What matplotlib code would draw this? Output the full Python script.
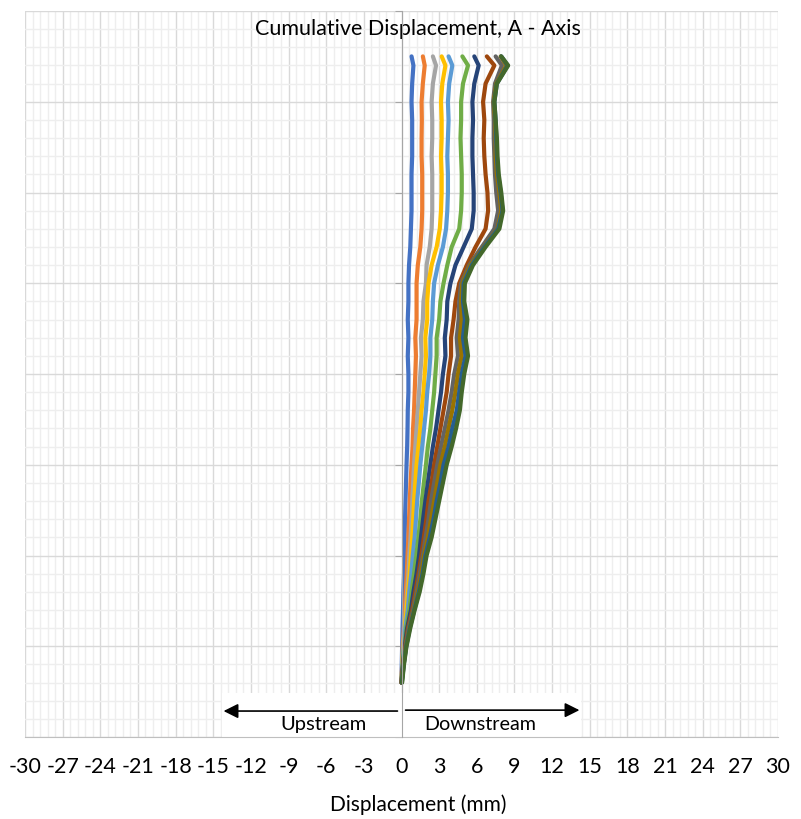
import matplotlib.pyplot as plt
from matplotlib.patches import Rectangle
from matplotlib.ticker import MultipleLocator

# depth / elevation levels (bottom to top)
levels = [3, 4, 5, 6, 7, 8, 9, 10, 11, 12, 13, 14, 15, 16, 17, 18, 19, 20,
          21, 22, 23, 24, 25, 26, 27, 28, 29, 30, 31, 32, 33, 34, 35, 36, 37, 37.5]

s01 = [0.0, 0.02, 0.05, 0.08, 0.12, 0.15, 0.2, 0.22, 0.25, 0.28, 0.32, 0.36, 0.4, 0.45, 0.48, 0.5, 0.55, 0.55,
       0.5, 0.55, 0.5, 0.55, 0.55, 0.6, 0.7, 0.75, 0.8, 0.8, 0.8, 0.85, 0.85, 0.85, 0.8, 0.85, 0.95, 0.8]
s02 = [0.0, 0.05, 0.1, 0.18, 0.26, 0.34, 0.42, 0.48, 0.55, 0.6, 0.66, 0.72, 0.8, 0.88, 0.92, 1.0, 1.05, 1.1,
       1.15, 1.1, 1.2, 1.2, 1.2, 1.3, 1.5, 1.6, 1.65, 1.65, 1.65, 1.6, 1.6, 1.62, 1.6, 1.7, 1.85, 1.7]
s03 = [0.0, 0.06, 0.13, 0.22, 0.35, 0.45, 0.55, 0.62, 0.72, 0.8, 0.86, 0.93, 1.0, 1.1, 1.2, 1.3, 1.4, 1.5,
       1.6, 1.55, 1.7, 1.75, 1.95, 2.0, 2.25, 2.4, 2.45, 2.45, 2.45, 2.4, 2.45, 2.45, 2.4, 2.5, 2.75, 2.5]
s04 = [0.0, 0.07, 0.15, 0.25, 0.4, 0.52, 0.65, 0.75, 0.85, 0.93, 1.0, 1.1, 1.2, 1.35, 1.5, 1.6, 1.75, 1.85,
       1.95, 1.9, 2.05, 2.05, 2.15, 2.4, 2.8, 3.05, 3.15, 3.2, 3.2, 3.15, 3.2, 3.2, 3.15, 3.25, 3.5, 3.2]
s05 = [0.0, 0.08, 0.18, 0.3, 0.5, 0.62, 0.78, 0.9, 1.05, 1.15, 1.25, 1.38, 1.5, 1.65, 1.8, 1.95, 2.05, 2.2,
       2.3, 2.3, 2.45, 2.5, 2.6, 2.9, 3.3, 3.55, 3.65, 3.7, 3.7, 3.65, 3.7, 3.75, 3.7, 3.8, 4.05, 3.75]
s06 = [0.0, 0.1, 0.22, 0.38, 0.62, 0.8, 1.0, 1.18, 1.35, 1.5, 1.62, 1.78, 1.95, 2.1, 2.3, 2.45, 2.6, 2.7,
       2.8, 2.8, 3.0, 3.1, 3.35, 3.65, 4.0, 4.6, 4.75, 4.8, 4.8, 4.75, 4.7, 4.75, 4.75, 4.9, 5.3, 4.85]
s07 = [0.0, 0.12, 0.26, 0.45, 0.75, 0.95, 1.2, 1.4, 1.55, 1.72, 1.9, 2.1, 2.3, 2.5, 2.75, 2.95, 3.15, 3.3,
       3.5, 3.45, 3.6, 3.65, 3.9, 4.3, 4.95, 5.6, 5.75, 5.75, 5.7, 5.65, 5.65, 5.7, 5.65, 5.8, 6.15, 5.8]
s08 = [0.0, 0.13, 0.3, 0.52, 0.85, 1.1, 1.35, 1.58, 1.78, 1.98, 2.15, 2.4, 2.6, 2.85, 3.1, 3.35, 3.6, 3.75,
       3.95, 3.95, 4.15, 4.3, 4.6, 5.2, 5.9, 6.7, 6.9, 6.85, 6.7, 6.6, 6.55, 6.6, 6.5, 6.7, 7.4, 6.8]
s09 = [0.0, 0.15, 0.33, 0.58, 0.92, 1.2, 1.45, 1.7, 1.92, 2.15, 2.35, 2.6, 2.85, 3.15, 3.45, 3.75, 4.0, 4.2,
       4.5, 4.4, 4.55, 4.6, 4.75, 5.4, 6.4, 7.4, 7.7, 7.55, 7.45, 7.4, 7.35, 7.35, 7.3, 7.45, 8.0, 7.5]
s10 = [0.02, 0.17, 0.36, 0.63, 0.98, 1.3, 1.58, 1.8, 2.1, 2.35, 2.6, 2.85, 3.1, 3.45, 3.75, 4.05, 4.3, 4.5,
       4.8, 4.65, 4.8, 4.75, 4.85, 5.5, 6.55, 7.65, 7.95, 7.8, 7.6, 7.5, 7.5, 7.45, 7.35, 7.55, 8.35, 7.9]
s11 = [0.03, 0.18, 0.38, 0.66, 1.02, 1.38, 1.68, 1.9, 2.25, 2.55, 2.8, 3.1, 3.35, 3.75, 4.05, 4.4, 4.6, 4.8,
       5.1, 4.9, 5.05, 4.9, 4.95, 5.6, 6.6, 7.7, 8.05, 7.9, 7.7, 7.6, 7.55, 7.5, 7.4, 7.6, 8.45, 7.95]
s12 = [0.05, 0.2, 0.4, 0.7, 1.05, 1.45, 1.75, 2.0, 2.4, 2.7, 3.0, 3.3, 3.6, 4.0, 4.35, 4.65, 4.8, 5.0,
       5.3, 5.1, 5.25, 5.0, 5.05, 5.7, 6.7, 7.8, 8.1, 7.95, 7.75, 7.65, 7.6, 7.5, 7.4, 7.6, 8.5, 7.95]

series = [s01, s02, s03, s04, s05, s06, s07, s08, s09, s10, s11, s12]
colors = ['#4472C4', '#ED7D31', '#A5A5A5', '#FFC000', '#5B9BD5', '#70AD47',
          '#264478', '#9E480E', '#636363', '#997300', '#255E91', '#43682B']

xticks = list(range(-30, 31, 3))

plt.rcParams['font.family'] = ['Lato', 'DejaVu Sans']

fig = plt.figure(figsize=(8.01, 8.2), dpi=100)
ax = fig.add_axes([25 / 801, 82 / 820, 753 / 801, 726 / 820])

ax.set_xlim(-30, 30)
ax.set_ylim(0, 40)
ax.xaxis.set_major_locator(MultipleLocator(3))
ax.xaxis.set_minor_locator(MultipleLocator(0.6))
ax.yaxis.set_major_locator(MultipleLocator(5))
ax.yaxis.set_minor_locator(MultipleLocator(1))
ax.grid(which='major', color='#D9D9D9', linewidth=1.0, zorder=0)
ax.grid(which='minor', color='#EEEEEE', linewidth=1.0, zorder=0)
ax.set_axisbelow(True)

ax.set_xticks(xticks)
ax.set_xticklabels([str(t) for t in xticks])
ax.tick_params(axis='x', which='both', length=0, pad=14, labelsize=15.5)
ax.tick_params(axis='y', which='major', length=5, color='#A6A6A6', labelleft=False)
ax.tick_params(axis='y', which='minor', length=0)

for side in ['top', 'right']:
    ax.spines[side].set_visible(False)
ax.spines['left'].set_position(('data', 0))
ax.spines['left'].set_color('#A6A6A6')
ax.spines['left'].set_zorder(4)
ax.spines['bottom'].set_color('#BFBFBF')

# white box behind the arrows
ax.add_patch(Rectangle((-14.3, 0), 28.6, 2.45, facecolor='white', edgecolor='none', zorder=1))

for vals, c in zip(series, colors):
    ax.plot(vals, levels, color=c, linewidth=3.0, solid_joinstyle='round',
            solid_capstyle='round', zorder=3)

arrow = dict(arrowstyle='-|>', color='black', lw=1.2, mutation_scale=22)
ax.annotate('', xy=(-14.4, 1.43), xytext=(-0.1, 1.43), arrowprops=arrow, zorder=5)
ax.annotate('', xy=(14.4, 1.48), xytext=(0.1, 1.48), arrowprops=arrow, zorder=5)
ax.text(-6.2, 0.75, 'Upstream', ha='center', va='center', fontsize=14.5, zorder=5)
ax.text(6.3, 0.75, 'Downstream', ha='center', va='center', fontsize=14.2, zorder=5)

ax.text(0.522, 0.976, 'Cumulative Displacement, A - Axis', transform=ax.transAxes,
        ha='center', va='center', fontsize=15.5)
fig.text(418 / 801, 1 - 805 / 820, 'Displacement (mm)', ha='center', va='center', fontsize=15)

fig.savefig('out.png', dpi=100)
